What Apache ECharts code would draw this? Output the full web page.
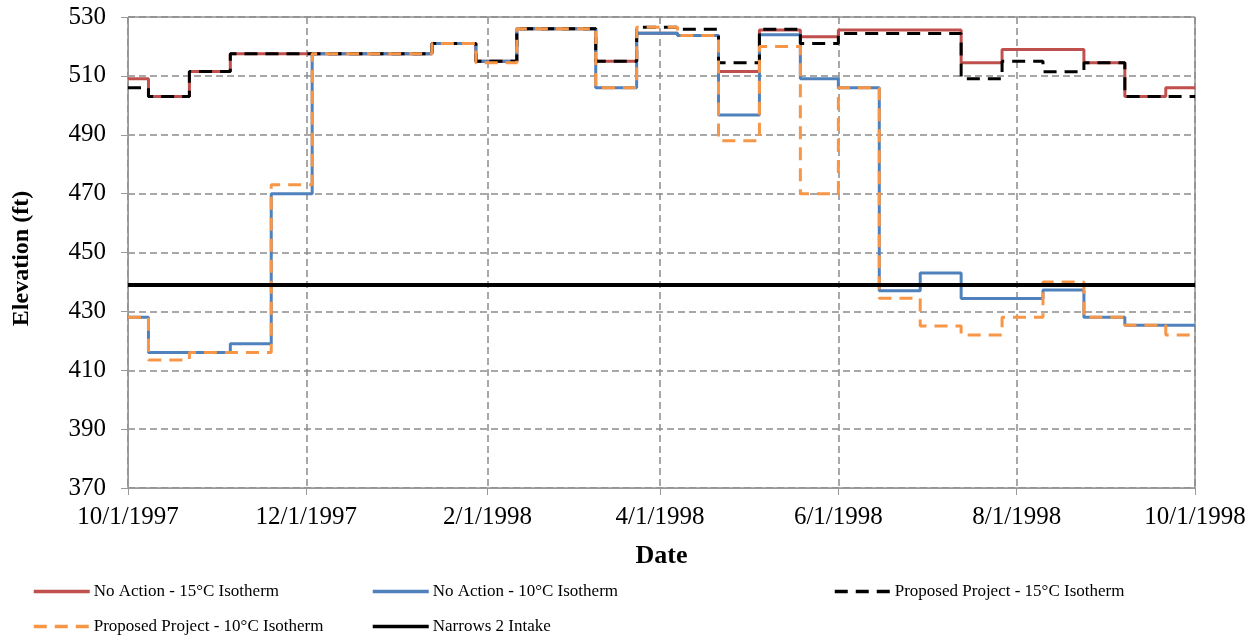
<!DOCTYPE html>
<html>
<head>
<meta charset="utf-8">
<script src="https://cdn.jsdelivr.net/npm/echarts@6/dist/echarts.min.js"></script>
<style>
html,body{margin:0;padding:0;background:#fff;}
#chart{width:1260px;height:636px;}
</style>
</head>
<body>
<div id="chart"></div>
<script>
// Period start dates (step changes)
const dates = [
  '1997-10-01','1997-10-08','1997-10-22','1997-11-05','1997-11-19','1997-12-03',
  '1997-12-17','1997-12-31','1998-01-13','1998-01-28','1998-02-11','1998-02-25',
  '1998-03-10','1998-03-24','1998-04-07','1998-04-21','1998-05-05','1998-05-19',
  '1998-06-01','1998-06-15','1998-06-29','1998-07-13','1998-07-27','1998-08-10',
  '1998-08-24','1998-09-07','1998-09-21'
];
const endDate = '1998-10-01';

const noAction15 = [509,503,511.5,517.5,517.5,517.5,517.5,517.5,521,515,526,526,
  515,524.5,523.7,511.5,525.6,523.3,525.6,525.6,525.6,514.5,519,519,514.5,503,506];
const noAction10 = [428,416,416,419,470,517.5,517.5,517.5,521,515,526,526,
  506,524.5,523.7,496.7,524,509,506,437,443,434.4,434.4,437.3,428,425.3,425.3];
const proposed15 = [506,503,511.5,517.5,517.5,517.5,517.5,517.5,521,515,526,526,
  515,526.5,525.8,514.5,525.8,521,524.4,524.4,524.4,509,515,511.4,514.5,503,503];
const proposed10 = [428,413.5,416,416,473,517.5,517.5,517.5,521,514.5,526,526,
  506,526.5,523.7,488,520,470,506,434.5,425,422,428,440,428,425.3,422];
const intakeElevation = 439;

const xTickDates = ['1997-10-01','1997-12-01','1998-02-01','1998-04-01','1998-06-01','1998-08-01','1998-10-01'];

const seriesNames = [
  'No Action - 15°C Isotherm',
  'No Action - 10°C Isotherm',
  'Proposed Project - 15°C Isotherm',
  'Proposed Project - 10°C Isotherm',
  'Narrows 2 Intake'
];

const ts = s => new Date(s + 'T00:00:00Z').getTime();
function toPairsTs(vals){
  const out = dates.map((d,i)=>[ts(d), vals[i]]);
  out.push([ts(endDate), vals[vals.length-1]]);
  return out;
}
function fmt(v){
  const d = new Date(v);
  return (d.getUTCMonth()+1) + '/' + d.getUTCDate() + '/' + d.getUTCFullYear();
}

const FONT = '"Liberation Serif", "Times New Roman", serif';
const chart = echarts.init(document.getElementById('chart'), null, {renderer:'canvas'});

function legendAt(name, left, top){
  return {
    data: [name], left: left, top: top, padding: 0,
    itemWidth: 56, itemHeight: 14, itemGap: 6,
    itemStyle: {opacity: 0},
    lineStyle: {width: 3.5},
    textStyle: {fontFamily: FONT, fontSize: 17, color: '#000', padding: [0,0,0,-1]}
  };
}

const option = {
  animation: false,
  backgroundColor: '#fff',
  grid: {left: 128, right: 65, top: 17, bottom: 148, show: true, borderColor: '#5a5a5a', borderWidth: 1},
  xAxis: {
    type: 'value',
    min: ts('1997-10-01'), max: ts('1998-10-01'),
    name: 'Date', nameLocation: 'middle', nameGap: 55,
    nameTextStyle: {fontFamily: FONT, fontSize: 26, fontWeight: 'bold', color: '#000'},
    axisLine: {show: true, lineStyle: {color: '#9a9a9a', width: 1}},
    axisTick: {show: true, length: 7, lineStyle: {color: '#9a9a9a'}, customValues: xTickDates.map(ts)},
    axisLabel: {fontFamily: FONT, fontSize: 25, color: '#000', margin: 17,
      customValues: xTickDates.map(ts), formatter: v => fmt(v)},
    splitLine: {show: true, lineStyle: {color: '#8c8c8c', type: [7,4], width: 1.5}}
  },
  yAxis: {
    type: 'value', min: 370, max: 530, interval: 20,
    name: 'Elevation (ft)', nameLocation: 'middle', nameGap: 94,
    nameTextStyle: {fontFamily: FONT, fontSize: 24, fontWeight: 'bold', color: '#000', padding: [0,12,0,0]},
    axisLine: {show: true, lineStyle: {color: '#9a9a9a', width: 1}},
    axisTick: {show: true, length: 7, lineStyle: {color: '#9a9a9a'}},
    axisLabel: {fontFamily: FONT, fontSize: 25, color: '#000', margin: 22},
    splitLine: {show: true, lineStyle: {color: '#8c8c8c', type: [7,4], width: 1.5}}
  },
  legend: [
    legendAt(seriesNames[0], 32, 583),
    legendAt(seriesNames[1], 371, 583),
    legendAt(seriesNames[2], 833, 583),
    legendAt(seriesNames[3], 32, 618),
    legendAt(seriesNames[4], 371, 618)
  ],
  series: [
    {name: seriesNames[0], type: 'line', step: 'end', showSymbol: false, symbol: 'none',
      data: toPairsTs(noAction15), lineStyle: {color: '#C0504D', width: 3}, itemStyle: {color: '#C0504D'}},
    {name: seriesNames[1], type: 'line', step: 'end', showSymbol: false, symbol: 'none',
      data: toPairsTs(noAction10), lineStyle: {color: '#4F81BD', width: 3}, itemStyle: {color: '#4F81BD'}},
    {name: seriesNames[2], type: 'line', step: 'end', showSymbol: false, symbol: 'none',
      data: toPairsTs(proposed15), lineStyle: {color: '#000000', width: 3, type: [13,8]}, itemStyle: {color: '#000000'}},
    {name: seriesNames[3], type: 'line', step: 'end', showSymbol: false, symbol: 'none',
      data: toPairsTs(proposed10), lineStyle: {color: '#F79646', width: 3, type: [13,8]}, itemStyle: {color: '#F79646'}},
    {name: seriesNames[4], type: 'line', showSymbol: false, symbol: 'none',
      data: [[ts(dates[0]), intakeElevation],[ts(endDate), intakeElevation]],
      lineStyle: {color: '#000000', width: 4}, itemStyle: {color: '#000000'}}
  ]
};
chart.setOption(option);
</script>
</body>
</html>
